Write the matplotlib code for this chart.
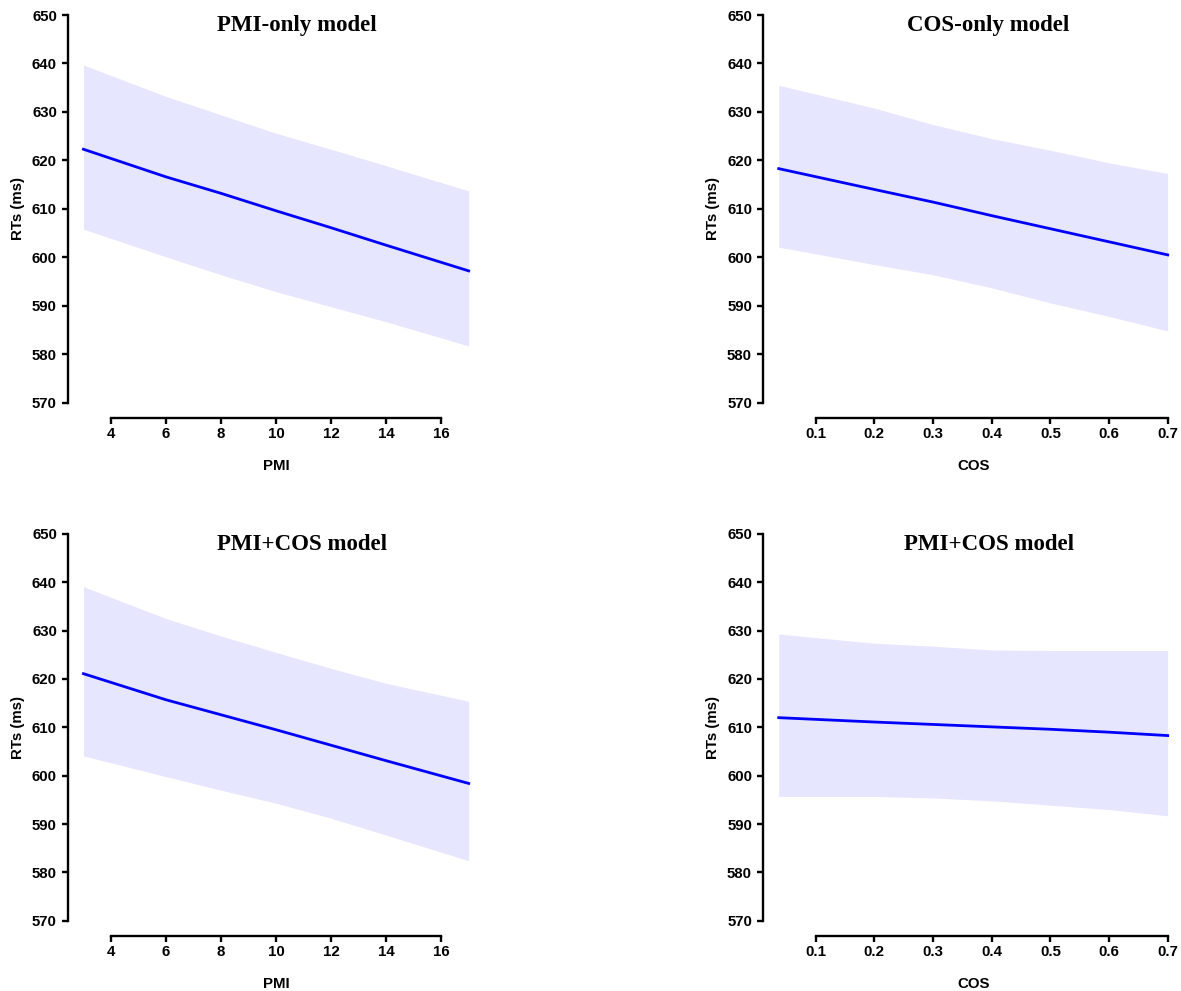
import matplotlib
matplotlib.use("Agg")
import matplotlib.pyplot as plt

# values
pmi_x = [3, 6, 8, 10, 12, 14, 17]
cos_x = [0.037, 0.2, 0.3, 0.4, 0.5, 0.6, 0.7]

# PMI-only model
pmi_only_fit = [622.3, 616.6, 613.2, 609.6, 606.1, 602.5, 597.2]
pmi_only_hi = [639.7, 633.2, 629.4, 625.6, 622.3, 618.9, 613.7]
pmi_only_lo = [605.8, 600.1, 596.4, 592.9, 589.8, 586.7, 581.7]

# COS-only model
cos_only_fit = [618.3, 614.0, 611.4, 608.6, 605.9, 603.2, 600.5]
cos_only_hi = [635.5, 630.8, 627.4, 624.5, 622.1, 619.5, 617.3]
cos_only_lo = [602.1, 598.5, 596.4, 593.7, 590.6, 587.8, 584.8]

# PMI+COS model, PMI effect
both_pmi_fit = [621.1, 615.7, 612.6, 609.5, 606.3, 603.1, 598.4]
both_pmi_hi = [639.1, 632.5, 628.9, 625.5, 622.2, 619.1, 615.4]
both_pmi_lo = [604.1, 599.8, 597.0, 594.3, 591.2, 587.7, 582.4]

# PMI+COS model, COS effect
both_cos_fit = [612.0, 611.1, 610.6, 610.1, 609.6, 609.0, 608.3]
both_cos_hi = [629.3, 627.4, 626.8, 626.0, 625.9, 625.9, 625.9]
both_cos_lo = [595.7, 595.7, 595.4, 594.8, 593.9, 593.0, 591.7]

pmi_ticks = [4, 6, 8, 10, 12, 14, 16]
cos_ticks = [0.1, 0.2, 0.3, 0.4, 0.5, 0.6, 0.7]
y_ticks = [570, 580, 590, 600, 610, 620, 630, 640, 650]

sans = "Liberation Sans"
serif = "Liberation Serif"
fs = 10.8

fig = plt.figure(figsize=(11.81, 9.91), dpi=100)
fig.patch.set_facecolor("white")

panels = [
    # rect, x, fit, hi, lo, ticks, xlim, xlabel, title, title_x
    ([0.0576, 0.578, 0.3523, 0.4225], pmi_x, pmi_only_fit, pmi_only_hi, pmi_only_lo,
     pmi_ticks, (2.44, 17.56), "PMI", "PMI-only model", 0.55),
    ([0.6462, 0.578, 0.3557, 0.4225], cos_x, cos_only_fit, cos_only_hi, cos_only_lo,
     cos_ticks, (0.0105, 0.7265), "COS", "COS-only model", 0.535),
    ([0.0576, 0.0553, 0.3523, 0.4215], pmi_x, both_pmi_fit, both_pmi_hi, both_pmi_lo,
     pmi_ticks, (2.44, 17.56), "PMI", "PMI+COS model", 0.562),
    ([0.6462, 0.0553, 0.3557, 0.4215], cos_x, both_cos_fit, both_cos_hi, both_cos_lo,
     cos_ticks, (0.0105, 0.7265), "COS", "PMI+COS model", 0.538),
]

for rect, x, fit, hi, lo, ticks, xlim, xlabel, title, tx in panels:
    ax = fig.add_axes(rect)
    ax.set_facecolor("none")
    ax.fill_between(x, lo, hi, color="#E6E6FF", linewidth=0)
    ax.plot(x, fit, color="#0000FF", linewidth=2.0)

    ax.set_xlim(*xlim)
    ax.set_ylim(566.8, 653.2)
    ax.set_xticks(ticks)
    ax.set_yticks(y_ticks)
    if xlabel == "COS":
        ax.set_xticklabels(["%.1f" % t for t in ticks])

    for s in ["top", "right"]:
        ax.spines[s].set_visible(False)
    ax.spines["left"].set_bounds(570, 650)
    ax.spines["bottom"].set_bounds(ticks[0], ticks[-1])
    for s in ["left", "bottom"]:
        ax.spines[s].set_linewidth(1.7)
        ax.spines[s].set_color("black")

    ax.tick_params(axis="both", width=1.7, length=4, color="black")
    ax.tick_params(axis="x", pad=2)
    ax.tick_params(axis="y", pad=4)
    for lab in ax.get_xticklabels() + ax.get_yticklabels():
        lab.set_fontfamily(sans)
        lab.set_fontweight("bold")
        lab.set_fontsize(fs)

    ax.set_xlabel(xlabel, fontfamily=sans, fontweight="bold", fontsize=fs, labelpad=13)
    ax.set_ylabel("RTs (ms)", fontfamily=sans, fontweight="bold", fontsize=fs, labelpad=5)
    ax.text(tx, 0.937, title, transform=ax.transAxes, ha="center", va="center",
            fontfamily=serif, fontweight="bold", fontsize=16.5)

fig.savefig("out.png", dpi=100, facecolor="white")
